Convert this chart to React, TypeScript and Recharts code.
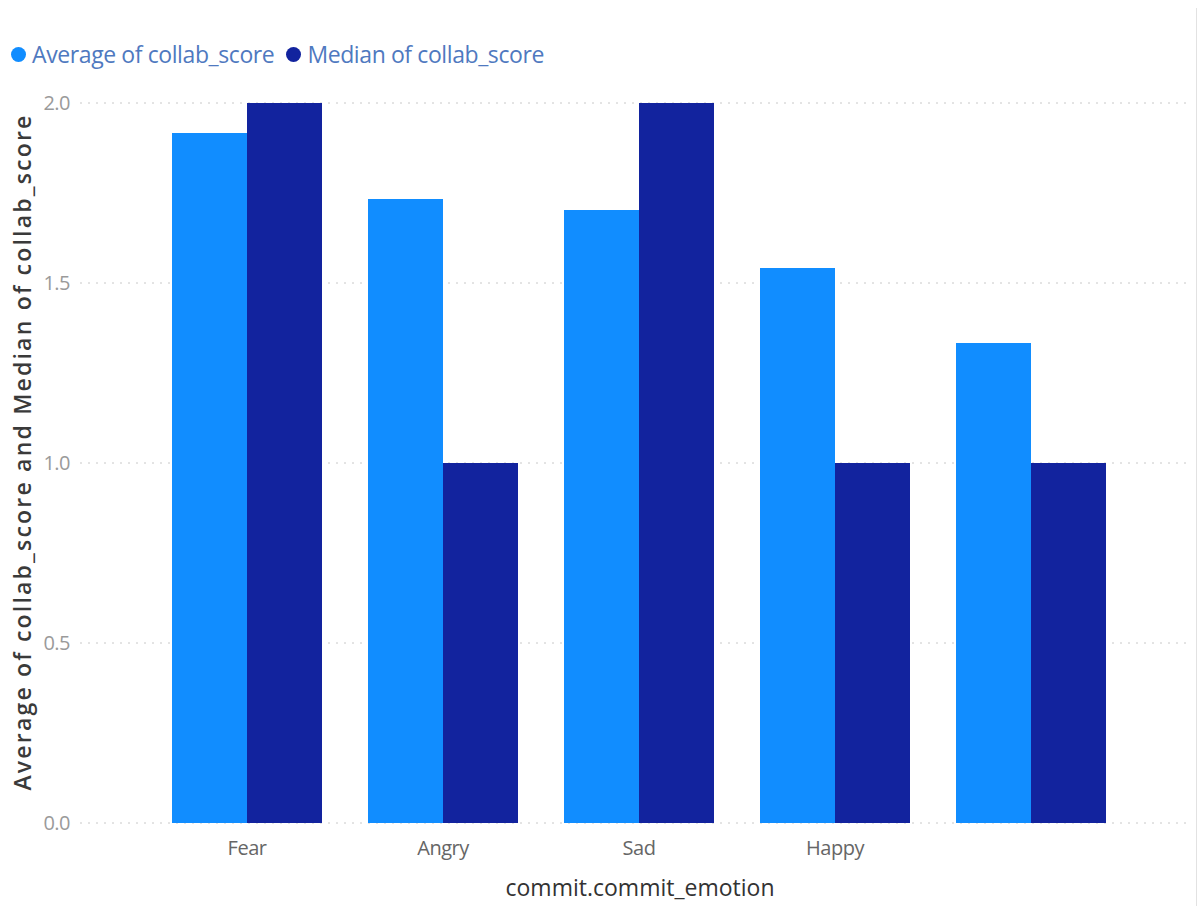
import React from 'react';
import { BarChart, Bar, XAxis, YAxis, CartesianGrid, Label } from 'recharts';

const emotions = ['Fear', 'Angry', 'Sad', 'Happy', ''];
const averageScore = [1.917, 1.733, 1.703, 1.542, 1.333];
const medianScore = [2, 1, 2, 1, 1];
const yTicks = [0, 0.5, 1, 1.5, 2];

const AVG_COLOR = '#118dff';
const MEDIAN_COLOR = '#12239e';
const FONT = '"Open Sans", "Noto Sans", sans-serif';

const data = emotions.map((emotion, i) => ({
  emotion,
  average: averageScore[i],
  median: medianScore[i],
}));

const legendItems = [
  { name: 'Average of collab_score', color: AVG_COLOR },
  { name: 'Median of collab_score', color: MEDIAN_COLOR },
];

// legend sits above the plot, outside the chart's own layout
function TopLegend() {
  return (
    <div
      style={{
        position: 'absolute',
        left: 11,
        top: 38,
        display: 'flex',
        alignItems: 'center',
        fontFamily: FONT,
        fontSize: 23,
        color: '#4f79c0',
        letterSpacing: -0.4,
        whiteSpace: 'nowrap',
      }}
    >
      {legendItems.map((item) => (
        <span key={item.name} style={{ display: 'flex', alignItems: 'center', marginRight: 12 }}>
          <span style={{ width: 15, height: 15, borderRadius: 8, background: item.color, display: 'inline-block', marginRight: 6 }} />
          {item.name}
        </span>
      ))}
    </div>
  );
}

function YTitle() {
  return (
    <text
      x={22}
      y={452}
      transform="rotate(-90 22 452)"
      textAnchor="middle"
      dominantBaseline="central"
      fill="#3a3a3a"
      fontFamily={FONT}
      fontSize={23}
      fontWeight={600}
      letterSpacing={2.2}
    >
      Average of collab_score and Median of collab_score
    </text>
  );
}

function XTitle() {
  return (
    <text x={640} y={887} textAnchor="middle" dominantBaseline="central" fill="#333" fontFamily={FONT} fontSize={23}>
      commit.commit_emotion
    </text>
  );
}

export default function App() {
  return (
    <div style={{ position: 'absolute', left: 0, top: 0, width: 1198, height: 906, background: '#fff', overflow: 'hidden' }}>
      <div style={{ position: 'absolute', right: 1, top: 8, bottom: 0, width: 1, background: '#e2e2e2' }} />
      <TopLegend />
      <BarChart
        width={1198}
        height={906}
        data={data}
        margin={{ top: 103, right: 8, bottom: 0, left: 0 }}
        barCategoryGap={23}
        barGap={0}
      >
        <CartesianGrid vertical={false} stroke="#c8c8c8" strokeDasharray="2 6" />
        <XAxis
          dataKey="emotion"
          height={83}
          axisLine={false}
          tickLine={false}
          padding={{ left: 69, right: 61 }}
          tick={{ fill: '#666', fontSize: 20, fontFamily: FONT, letterSpacing: -0.5 }}
          tickMargin={12}
        >
          <Label content={<XTitle />} />
        </XAxis>
        <YAxis
          width={80}
          domain={[0, 2]}
          ticks={yTicks}
          tickFormatter={(v: number) => v.toFixed(1)}
          axisLine={false}
          tickLine={false}
          tickMargin={4}
          tick={{ fill: '#9a9a9a', fontSize: 20, fontFamily: FONT, letterSpacing: -0.5 }}
        >
          <Label content={<YTitle />} />
        </YAxis>
        <Bar dataKey="average" name="Average of collab_score" fill={AVG_COLOR} isAnimationActive={false} />
        <Bar dataKey="median" name="Median of collab_score" fill={MEDIAN_COLOR} isAnimationActive={false} />
      </BarChart>
    </div>
  );
}
